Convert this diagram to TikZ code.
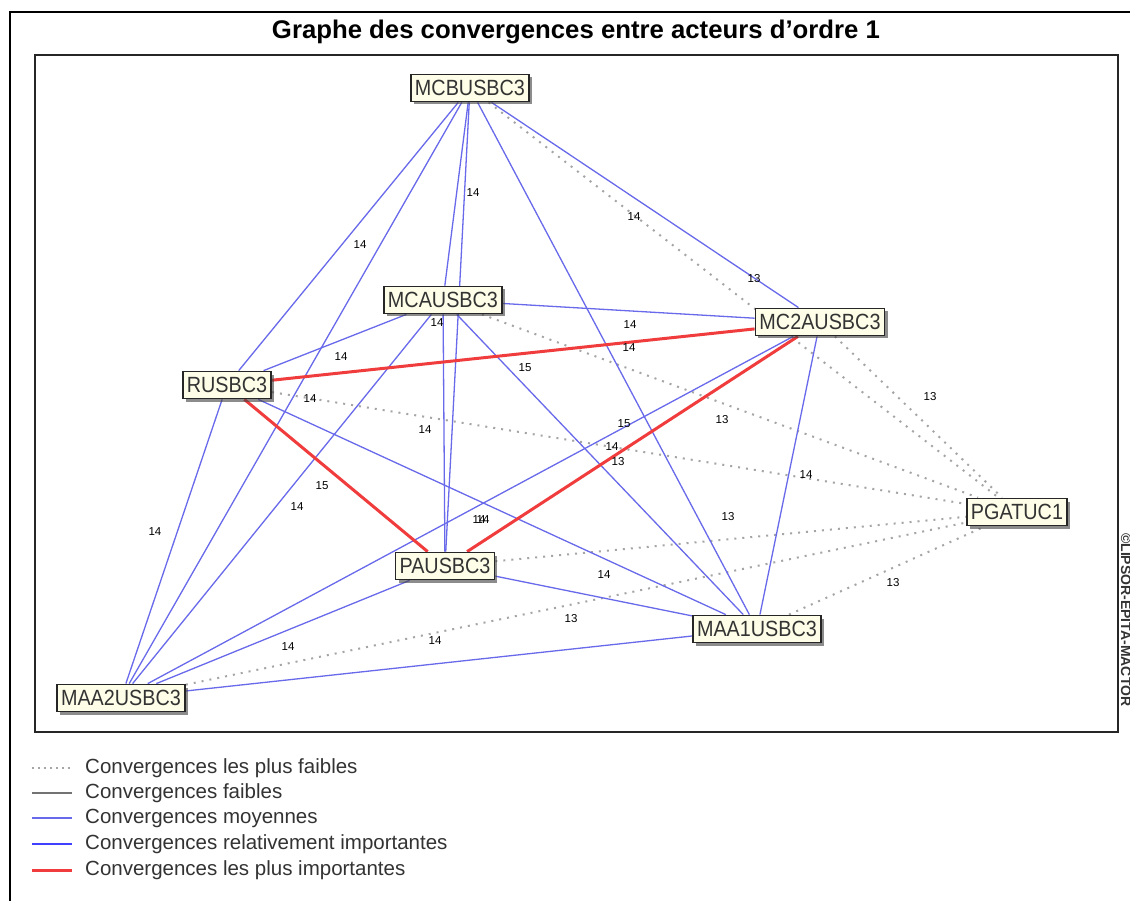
\documentclass[tikz,border=0pt]{standalone}
\usepackage{fontspec}
\setmainfont{Liberation Sans}
\usetikzlibrary{shadows,backgrounds}
\definecolor{edgeblue}{RGB}{105,105,235}
\definecolor{edgered}{RGB}{240,60,60}
\definecolor{dotgray}{RGB}{165,165,165}
\definecolor{boxfill}{RGB}{253,253,232}
\newcommand\sqz[1]{\scalebox{0.9}[1]{#1}}
\begin{document}
\begin{tikzpicture}[x=1pt,y=-1pt,
  actor/.style={draw=black!85, line width=1.8pt, fill=boxfill, inner xsep=4pt, inner ysep=0pt,
    minimum height=27pt, text height=16pt, text depth=0.5pt, text=black!80,
    font=\fontsize{22}{22}\selectfont,
    drop shadow={shadow xshift=3pt,shadow yshift=-3pt,fill=black!75,opacity=0.6}},
  moyen/.style={edgeblue, line width=1.3pt},
  fort/.style={edgered, line width=3pt},
  faible/.style={dotgray, line width=2pt, dash pattern=on 2pt off 6pt},
  val/.style={font=\fontsize{11.5}{11.5}\selectfont, text=black, inner sep=0pt},
  legtxt/.style={anchor=west, font=\fontsize{20.5}{20.5}\selectfont, text=black!80, inner sep=0pt}
]
\useasboundingbox (0,0) rectangle (1130,901);
% outer frame
\draw[black, line width=1.5pt] (1130,12) -- (10,12) -- (10,901);
% plot frame
\draw[black!85, line width=2pt] (35,55) rectangle (1118,732);
% title
\node[anchor=base, inner sep=0pt] (title) at (576,39) {\resizebox{608pt}{18.5pt}{\bfseries Graphe des convergences entre acteurs d\char"27 ordre 1}};
% copyright
\node[rotate=-90, anchor=west, inner sep=0pt, font=\fontsize{14}{14}\selectfont\bfseries, text=black!80] (copy) at (1126,533) {©LIPSOR-EPITA-MACTOR};

% actors
\node[actor] (MCB)  at (470,88)  {\sqz{MCBUSBC3}};
\node[actor] (MCA)  at (443,300) {\sqz{MCAUSBC3}};
\node[actor] (MC2)  at (820,322) {\sqz{MC2AUSBC3}};
\node[actor] (RU)   at (227,385) {\sqz{RUSBC3}};
\node[actor] (PG)   at (1017,512) {\sqz{PGATUC1}};
\node[actor] (PAU)  at (445,566) {\sqz{PAUSBC3}};
\node[actor] (MAA1) at (757,629) {\sqz{MAA1USBC3}};
\node[actor] (MAA2) at (121,698) {\sqz{MAA2USBC3}};

\begin{pgfonlayer}{background}
\fill[white] (0,0) rectangle (1130,901);
% weakest (dotted) : all links of PGATUC1
\draw[faible] (MCB) -- (PG);
\draw[faible] (MCA) -- (PG);
\draw[faible] (MC2) -- (PG);
\draw[faible] (RU) -- (PG);
\draw[faible] (PAU) -- (PG);
\draw[faible] (MAA1) -- (PG);
\draw[faible] (MAA2) -- (PG);
% medium
\draw[moyen] (MCB) -- (MCA);
\draw[moyen] (MCB) -- (MC2);
\draw[moyen] (MCB) -- (RU);
\draw[moyen] (MCB) -- (PAU);
\draw[moyen] (MCB) -- (MAA1);
\draw[moyen] (MCB) -- (MAA2);
\draw[moyen] (MCA) -- (MC2);
\draw[moyen] (MCA) -- (RU);
\draw[moyen] (MCA) -- (PAU);
\draw[moyen] (MCA) -- (MAA1);
\draw[moyen] (MCA) -- (MAA2);
\draw[moyen] (MC2) -- (MAA1);
\draw[moyen] (MC2) -- (MAA2);
\draw[moyen] (RU) -- (MAA1);
\draw[moyen] (RU) -- (MAA2);
\draw[moyen] (PAU) -- (MAA1);
\draw[moyen] (PAU) -- (MAA2);
\draw[moyen] (MAA1) -- (MAA2);
% strongest
\draw[fort] (RU) -- (MC2);
\draw[fort] (RU) -- (PAU);
\draw[fort] (PAU) -- (MC2);
\end{pgfonlayer}

% values
\node[val] (l1)  at (473,193) {14};
\node[val] (l2)  at (360,245) {14};
\node[val] (l3)  at (634,217) {14};
\node[val] (l4)  at (754,279) {13};
\node[val] (l5)  at (437,323) {14};
\node[val] (l6)  at (630,325) {14};
\node[val] (l7)  at (629,348) {14};
\node[val] (l8)  at (341,357) {14};
\node[val] (l9)  at (525,368) {15};
\node[val] (l10) at (310,399) {14};
\node[val] (l11) at (930,397) {13};
\node[val] (l12) at (425,430) {14};
\node[val] (l13) at (722,420) {13};
\node[val] (l14) at (624,424) {15};
\node[val] (l15) at (612,447) {14};
\node[val] (l16) at (618,462) {13};
\node[val] (l17) at (806,475) {14};
\node[val] (l18) at (322,486) {15};
\node[val] (l19) at (297,507) {14};
\node[val] (l20) at (155,532) {14};
\node[val] (l21) at (728,517) {13};
\node[val] (l22) at (479,520) {14};
\node[val] (l23) at (483,520) {14};
\node[val] (l24) at (604,575) {14};
\node[val] (l25) at (893,583) {13};
\node[val] (l26) at (571,619) {13};
\node[val] (l27) at (288,647) {14};
\node[val] (l28) at (435,641) {14};

% legend
\draw[dotgray, line width=1.2pt, dash pattern=on 2pt off 4pt] (32,768) -- (72,768);
\node[legtxt] (g1) at (85,768) {Convergences les plus faibles};
\draw[black!55, line width=1.3pt] (32,793) -- (72,793);
\node[legtxt] (g2) at (85,793) {Convergences faibles};
\draw[edgeblue, line width=1.3pt] (32,818) -- (72,818);
\node[legtxt] (g3) at (85,818) {Convergences moyennes};
\draw[blue!75, line width=2.5pt] (32,844) -- (72,844);
\node[legtxt] (g4) at (85,844) {Convergences relativement importantes};
\draw[edgered, line width=3pt] (32,870) -- (72,870);
\node[legtxt] (g5) at (85,870) {Convergences les plus importantes};
\end{tikzpicture}
\end{document}
